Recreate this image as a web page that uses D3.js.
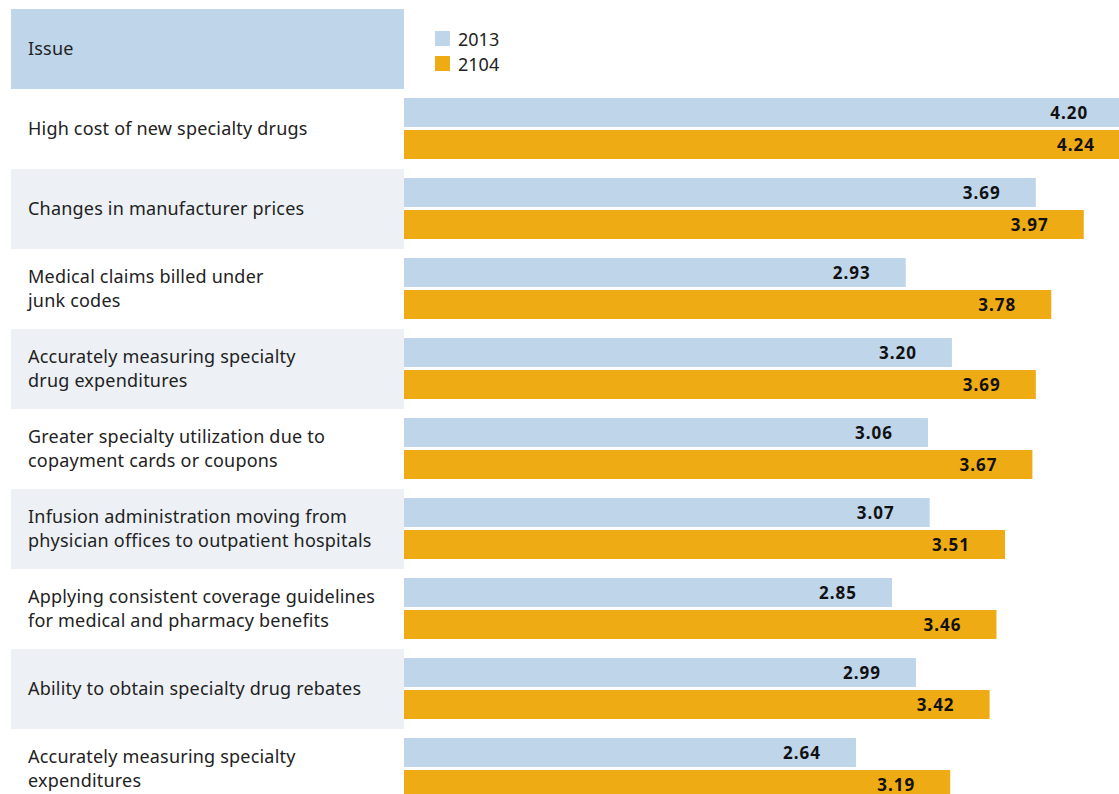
<!DOCTYPE html>
<html>
<head>
<meta charset="utf-8">
<script src="https://cdn.jsdelivr.net/npm/d3@7"></script>
<style>
  body { margin: 0; background: #fff; }
  svg { display: block; }
</style>
</head>
<body>
<div id="chart"></div>
<script>
const issues = [
  ['High cost of new specialty drugs'],
  ['Changes in manufacturer prices'],
  ['Medical claims billed under', 'junk codes'],
  ['Accurately measuring specialty', 'drug expenditures'],
  ['Greater specialty utilization due to', 'copayment cards or coupons'],
  ['Infusion administration moving from', 'physician offices to outpatient hospitals'],
  ['Applying consistent coverage guidelines', 'for medical and pharmacy benefits'],
  ['Ability to obtain specialty drug rebates'],
  ['Accurately measuring specialty', 'expenditures']
]
const values2013 = [4.20, 3.69, 2.93, 3.20, 3.06, 3.07, 2.85, 2.99, 2.64]
const values2014 = [4.24, 3.97, 3.78, 3.69, 3.67, 3.51, 3.46, 3.42, 3.19]
const seriesNames = ['2013', '2104']

const width = 1119
const height = 794
const labelLeft = 11
const barLeft = 404
const headerTop = 9
const headerBottom = 89
const rowH = 80

const colors = ['#bfd5ea', '#eeab13']
const font = "'Noto Sans', sans-serif"

const y = d3.scaleBand()
  .domain(d3.range(issues.length))
  .range([headerBottom, headerBottom + rowH * issues.length])

const x = d3.scaleLinear()
  .domain([0, 4.24])
  .range([barLeft, 1130])

const svg = d3.select('#chart')
  .append('svg')
  .attr('width', width)
  .attr('height', height)

// header
svg.append('rect')
  .attr('x', labelLeft)
  .attr('y', headerTop)
  .attr('width', barLeft - labelLeft)
  .attr('height', headerBottom - headerTop)
  .attr('fill', '#bfd5ea')

svg.append('text')
  .attr('x', 28)
  .attr('y', 55)
  .attr('font-family', font)
  .attr('font-size', 18)
  .attr('letter-spacing', 0.2)
  .attr('fill', '#222')
  .text('Issue')

// legend
const legend = svg.append('g')
  .selectAll('g')
  .data(seriesNames)
  .enter()
  .append('g')
  .attr('transform', (d, i) => `translate(435,${31 + i * 25})`)

legend.append('rect')
  .attr('width', 15)
  .attr('height', 15)
  .attr('fill', (d, i) => colors[i])

legend.append('text')
  .attr('x', 23)
  .attr('y', 15)
  .attr('font-family', font)
  .attr('font-size', 18)
  .attr('fill', '#222')
  .text(d => d)

// row backgrounds
svg.append('g')
  .selectAll('rect')
  .data(issues.map((d, i) => i).filter(i => i % 2 === 1))
  .enter()
  .append('rect')
  .attr('x', labelLeft)
  .attr('y', i => y(i))
  .attr('width', barLeft - labelLeft)
  .attr('height', y.bandwidth())
  .attr('fill', '#edf1f5')

// row labels
const labels = svg.append('g')
  .selectAll('text')
  .data(issues)
  .enter()
  .append('text')
  .attr('font-family', font)
  .attr('font-size', 18)
  .attr('letter-spacing', 0.2)
  .attr('fill', '#222')

labels.selectAll('tspan')
  .data((d, i) => d.map(line => ({ line, i, n: d.length })))
  .enter()
  .append('tspan')
  .attr('x', 28)
  .attr('y', (d, j) => y(d.i) + y.bandwidth() / 2 + 6 - (d.n - 1) * 12 + j * 24)
  .text(d => d.line)

// bars
const series = [values2013, values2014]
series.forEach((vals, s) => {
  const g = svg.append('g')
  g.selectAll('rect')
    .data(vals)
    .enter()
    .append('rect')
    .attr('x', x(0))
    .attr('y', (d, i) => y(i) + 9 + s * 32)
    .attr('width', d => x(d) - x(0))
    .attr('height', 29)
    .attr('fill', colors[s])

  g.selectAll('text')
    .data(vals)
    .enter()
    .append('text')
    .attr('x', d => x(d) - 35)
    .attr('y', (d, i) => y(i) + 9 + s * 32 + 21)
    .attr('text-anchor', 'end')
    .attr('font-family', font)
    .attr('font-size', 17)
    .attr('font-weight', 'bold')
    .attr('letter-spacing', 1)
    .attr('fill', '#111')
    .text(d => d.toFixed(2))
})
</script>
</body>
</html>
